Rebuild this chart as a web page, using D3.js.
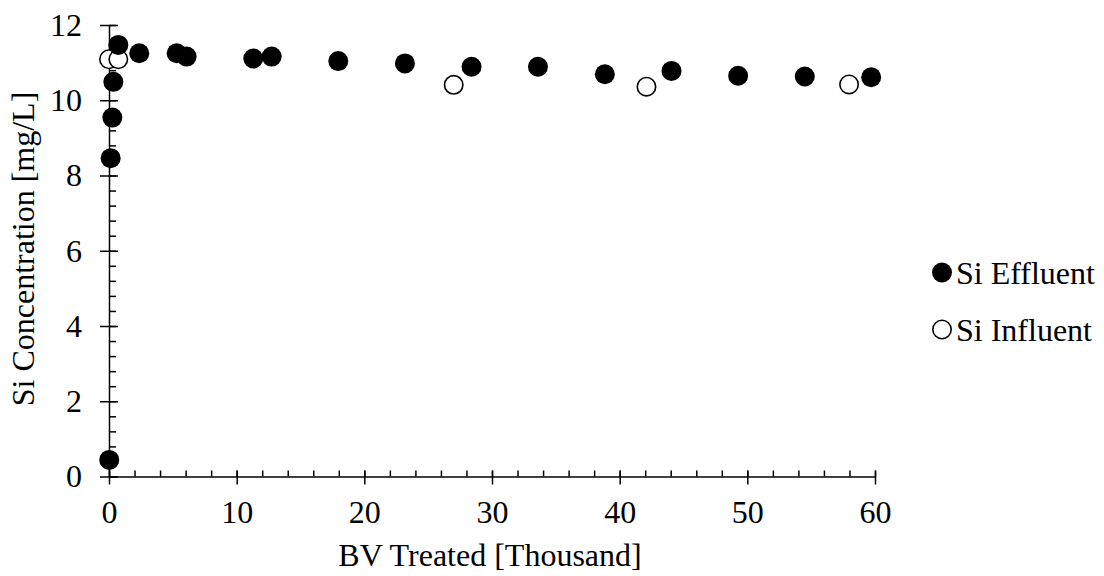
<!DOCTYPE html>
<html>
<head>
<meta charset="utf-8">
<script src="https://cdn.jsdelivr.net/npm/d3@7"></script>
<style>
  html, body { margin: 0; padding: 0; background: #fff; }
  svg text { font-family: "Liberation Serif", "Times New Roman", serif; fill: #000; }
</style>
</head>
<body>
<div id="app"></div>
<script>
// effluent series (filled dots)
const effluent_x = [0.02, 0.13, 0.26, 0.34, 0.73, 2.37, 5.3, 6.08, 11.3, 12.74, 17.96, 23.18, 28.4, 33.6, 38.84, 44.06, 49.28, 54.5, 59.7]
const effluent_y = [0.44, 8.46, 9.54, 10.49, 11.47, 11.25, 11.25, 11.16, 11.11, 11.16, 11.04, 10.98, 10.89, 10.89, 10.69, 10.78, 10.65, 10.63, 10.61]

// influent series (open circles)
const influent_x = [0.0, 0.73, 27.0, 42.1, 57.97]
const influent_y = [11.09, 11.09, 10.41, 10.36, 10.42]

// axis ticks
const x_ticks = [0, 10, 20, 30, 40, 50, 60]
const y_ticks = [0, 2, 4, 6, 8, 10, 12]
const legend_labels = ['Si Effluent', 'Si Influent']

function main() {
  const width = 1104
  const height = 576
  const fontSize = 32

  const svg = d3.select('#app')
    .append('svg')
    .attr('width', width)
    .attr('height', height)

  // scales
  const x_scale = d3.scaleLinear().domain([0, 60]).range([109, 875])
  const y_scale = d3.scaleLinear().domain([0, 12]).range([476.5, 25])

  // minor ticks (inside only)
  const x_minor = d3.range(0, 60.001, 2)
  const y_minor = d3.range(0, 12.001, 0.4)

  svg.append('g')
    .attr('transform', `translate(0,${y_scale(0)})`)
    .call(d3.axisBottom(x_scale).tickValues(x_minor).tickSizeInner(-6).tickSizeOuter(0).tickFormat(''))
    .call((g) => g.select('.domain').remove())
    .selectAll('line').attr('stroke-width', 1.5)

  svg.append('g')
    .attr('transform', `translate(${x_scale(0)},0)`)
    .call(d3.axisLeft(y_scale).tickValues(y_minor).tickSizeInner(-7).tickSizeOuter(0).tickFormat(''))
    .call((g) => g.select('.domain').remove())
    .selectAll('line').attr('stroke-width', 1.5)

  // x axis with crossing major ticks
  const gx = svg.append('g')
    .attr('transform', `translate(0,${y_scale(0)})`)
    .call(d3.axisBottom(x_scale).tickValues(x_ticks).tickSizeInner(8).tickSizeOuter(0).tickPadding(16))
  gx.selectAll('.tick line').attr('y1', -6).attr('stroke-width', 1.5)
  gx.select('.domain').attr('stroke-width', 1.5)
  gx.selectAll('text').attr('font-size', fontSize).style('font-family', '"Liberation Serif", serif')

  // y axis with crossing major ticks
  const gy = svg.append('g')
    .attr('transform', `translate(${x_scale(0)},0)`)
    .call(d3.axisLeft(y_scale).tickValues(y_ticks).tickSizeInner(9).tickSizeOuter(0).tickPadding(18))
  gy.selectAll('.tick line').attr('x1', 9).attr('stroke-width', 1.5)
  gy.select('.domain').attr('stroke-width', 1.5)
  gy.selectAll('text').attr('font-size', fontSize).style('font-family', '"Liberation Serif", serif')

  // axis titles
  svg.append('text')
    .attr('x', 490)
    .attr('y', 566)
    .attr('text-anchor', 'middle')
    .attr('font-size', fontSize)
    .text('BV Treated [Thousand]')

  svg.append('text')
    .attr('transform', 'translate(34,249) rotate(-90)')
    .attr('text-anchor', 'middle')
    .attr('font-size', fontSize)
    .text('Si Concentration [mg/L]')

  // influent first, effluent drawn on top
  const influent = influent_x.map((x, i) => ({ x, y: influent_y[i] }))
  const effluent = effluent_x.map((x, i) => ({ x, y: effluent_y[i] }))

  svg.append('g').selectAll('circle').data(influent).join('circle')
    .attr('cx', (d) => x_scale(d.x))
    .attr('cy', (d) => y_scale(d.y))
    .attr('r', 9.2)
    .attr('fill', '#fff')
    .attr('stroke', '#000')
    .attr('stroke-width', 1.6)

  svg.append('g').selectAll('circle').data(effluent).join('circle')
    .attr('cx', (d) => x_scale(d.x))
    .attr('cy', (d) => y_scale(d.y))
    .attr('r', 10)
    .attr('fill', '#000')

  // legend
  const legend = svg.append('g')
  legend_labels.forEach((label, i) => {
    const cy = 272.5 + i * 57
    legend.append('circle')
      .attr('cx', 942)
      .attr('cy', cy)
      .attr('r', i === 0 ? 10 : 9.2)
      .attr('fill', i === 0 ? '#000' : '#fff')
      .attr('stroke', '#000')
      .attr('stroke-width', i === 0 ? 0 : 1.6)
    legend.append('text')
      .attr('x', 956)
      .attr('y', cy + 11)
      .attr('font-size', fontSize)
      .text(label)
  })
}

main()
</script>
</body>
</html>
